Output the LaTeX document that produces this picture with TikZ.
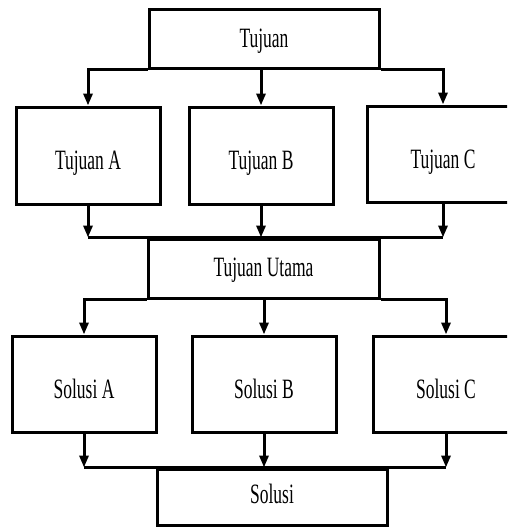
\documentclass[tikz,border=0pt]{standalone}
\usepackage{fontspec}
\newfontfamily\boxfont{Liberation Serif}[FakeStretch=0.625]
\usetikzlibrary{arrows.meta}
\begin{document}
\begin{tikzpicture}[x=1pt,y=-1pt,
  box/.style={draw, line width=3pt, inner sep=0pt, align=center, text depth=0pt,
    font=\boxfont\fontsize{28}{33}\selectfont},
  tall/.style={box, text height=28.5pt},
  link/.style={line width=3pt},
  arr/.style={line width=3pt, -{Triangle[length=12pt,width=9pt]}}]
\useasboundingbox (0,0) rectangle (507,527);
\clip (0,0) rectangle (507,527);

% goals
\node[box, text height=16.5pt, minimum width=230pt, minimum height=58pt] (tujuan) at (264,39) {Tujuan};
\node[tall, minimum width=144pt, minimum height=97pt] (ta) at (88,155.5) {Tujuan A};
\node[tall, minimum width=144pt, minimum height=97pt] (tb) at (261,155.5) {Tujuan B};
\node[tall, minimum width=152pt, minimum height=96pt] (tc) at (443,154) {Tujuan C};
\node[box, text height=15.5pt, minimum width=231pt, minimum height=59pt] (utama) at (263.5,268.5) {Tujuan Utama};

% solutions
\node[tall, minimum width=144pt, minimum height=96pt] (sa) at (84,384) {Solusi A};
\node[tall, minimum width=144pt, minimum height=96pt] (sb) at (264,384) {Solusi B};
\node[tall, minimum width=146pt, minimum height=96pt] (sc) at (446,384) {Solusi C};
\node[box, text height=12.5pt, minimum width=230pt, minimum height=56pt] (solusi) at (272,497) {Solusi};

% Tujuan fans out to the three goals
\draw[arr] (tujuan.south west) -| (ta.north);
\draw[arr] (tujuan.south -| tb.north) -- (tb.north);
\draw[arr] (tujuan.south east) -| (tc.north);

% the three goals merge into Tujuan Utama
\coordinate (ja) at (ta.south |- utama.north);
\coordinate (jc) at (tc.south |- utama.north);
\draw[arr] (ta.south) -- (ja);
\draw[arr] (tb.south) -- (tb.south |- utama.north);
\draw[arr] (tc.south) -- (jc);
\draw[link] (ja) -- (jc);

% Tujuan Utama fans out to the three solutions
\draw[arr] (utama.south west) -| (sa.north);
\draw[arr] (utama.south -| sb.north) -- (sb.north);
\draw[arr] (utama.south east) -| (sc.north);

% the three solutions merge into Solusi
\coordinate (ka) at (sa.south |- solusi.north);
\coordinate (kc) at (sc.south |- solusi.north);
\draw[arr] (sa.south) -- (ka);
\draw[arr] (sb.south) -- (sb.south |- solusi.north);
\draw[arr] (sc.south) -- (kc);
\draw[link] (ka) -- (kc);
\end{tikzpicture}
\end{document}
